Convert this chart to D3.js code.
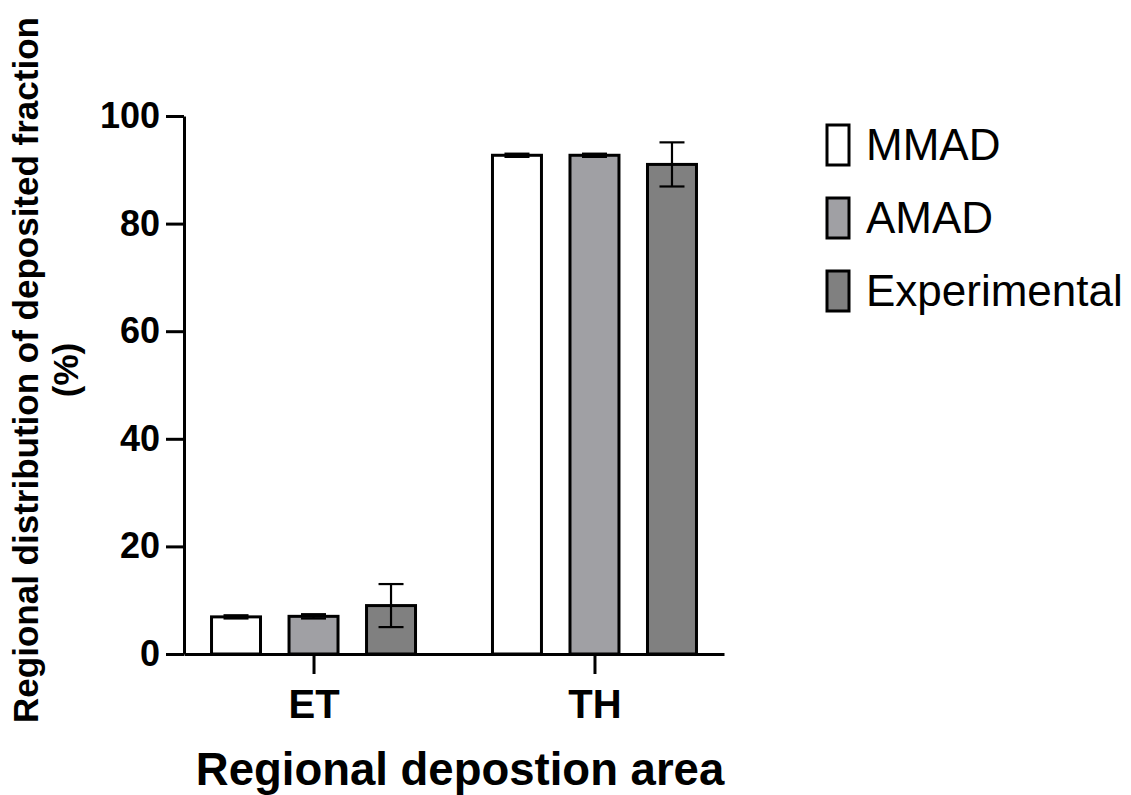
<!DOCTYPE html>
<html>
<head>
<meta charset="utf-8">
<script src="https://cdn.jsdelivr.net/npm/d3@7"></script>
<style>
  body { margin: 0; background: #fff; }
  text { font-family: "Liberation Sans", Arial, sans-serif; fill: #000; }
</style>
</head>
<body>
<div id="chart"></div>
<script>
// data
const regions = ["ET", "TH"];
const series = ["MMAD", "AMAD", "Experimental"];
const seriesColors = ["#ffffff", "#a0a0a4", "#808080"];
const meanValues = [   // rows = regions, cols = series
    [6.9, 7.0, 9.0],
    [92.7, 92.7, 91.0]
];
const sdValues = [
    [0.3, 0.4, 4.0],
    [0.3, 0.3, 4.1]
];
const yTicks = [0, 20, 40, 60, 80, 100];

const W = 1131, H = 795;

const svg = d3.select("#chart")
    .append("svg")
    .attr("width", W)
    .attr("height", H);

// scales
const xScale = d3.scalePoint()
    .domain(regions)
    .range([184, 724])
    .padding(0.461);

const inner = d3.scaleBand()
    .domain(series)
    .range([-102, 102])
    .paddingInner(0.368)
    .paddingOuter(0);

const yScale = d3.scaleLinear()
    .domain([0, 100])
    .range([654, 116]);

const colorScale = d3.scaleOrdinal()
    .domain(series)
    .range(seriesColors);

// flatten for drawing
const bars = [];
regions.forEach((r, i) => {
    series.forEach((s, j) => {
        bars.push({ region: r, series: s, mean: meanValues[i][j], sd: sdValues[i][j] });
    });
});

// bars
svg.selectAll(".bar")
    .data(bars)
    .enter()
    .append("rect")
    .attr("class", "bar")
    .attr("x", d => xScale(d.region) + inner(d.series))
    .attr("y", d => yScale(d.mean))
    .attr("width", inner.bandwidth())
    .attr("height", d => yScale(0) - yScale(d.mean))
    .style("fill", d => colorScale(d.series))
    .style("stroke", "#000")
    .style("stroke-width", 3);

// error bars
const capW = 25;
const err = svg.selectAll(".err")
    .data(bars)
    .enter()
    .append("g")
    .attr("class", "err")
    .attr("transform", d => `translate(${xScale(d.region) + inner(d.series) + inner.bandwidth() / 2},0)`)
    .style("stroke", "#000")
    .style("stroke-width", 2.2);
err.append("line")
    .attr("y1", d => yScale(d.mean - d.sd))
    .attr("y2", d => yScale(d.mean + d.sd));
err.append("line")
    .attr("x1", -capW / 2).attr("x2", capW / 2)
    .attr("y1", d => yScale(d.mean + d.sd))
    .attr("y2", d => yScale(d.mean + d.sd));
err.append("line")
    .attr("x1", -capW / 2).attr("x2", capW / 2)
    .attr("y1", d => yScale(d.mean - d.sd))
    .attr("y2", d => yScale(d.mean - d.sd));

// axes
const yAxis = svg.append("g")
    .attr("transform", "translate(184,0)")
    .call(d3.axisLeft(yScale)
        .tickValues(yTicks)
        .tickSize(18)
        .tickSizeOuter(0)
        .tickPadding(6));
yAxis.selectAll("path, line").style("stroke", "#000").style("stroke-width", 3);
yAxis.selectAll(".tick text")
    .style("font-size", "36px")
    .style("font-weight", "bold")
    .style("font-family", "'Liberation Sans', Arial, sans-serif");

const xAxis = svg.append("g")
    .attr("transform", "translate(0,654)")
    .call(d3.axisBottom(xScale)
        .tickSize(20)
        .tickSizeOuter(0)
        .tickPadding(16));
xAxis.selectAll("path, line").style("stroke", "#000").style("stroke-width", 3);
xAxis.selectAll(".tick text")
    .style("font-size", "40px")
    .style("font-weight", "bold")
    .style("font-family", "'Liberation Sans', Arial, sans-serif");

// axis titles
svg.append("text")
    .attr("x", 460)
    .attr("y", 785)
    .attr("text-anchor", "middle")
    .style("font-size", "45.5px")
    .style("font-weight", "bold")
    .text("Regional depostion area");

const yTitle = svg.append("text")
    .attr("transform", "translate(38,370) rotate(-90)")
    .attr("text-anchor", "middle")
    .style("font-size", "35px")
    .style("font-weight", "bold");
yTitle.append("tspan")
    .attr("x", 0)
    .attr("y", 0)
    .text("Regional distribution of deposited fraction");
yTitle.append("tspan")
    .attr("x", 0)
    .attr("y", 40)
    .text("(%)");

// legend
const legend = svg.selectAll(".legend")
    .data(series)
    .enter()
    .append("g")
    .attr("class", "legend")
    .attr("transform", (d, i) => `translate(827, ${160 + i * 73})`);
legend.append("rect")
    .attr("x", 0)
    .attr("y", -35)
    .attr("width", 22)
    .attr("height", 40)
    .style("fill", d => colorScale(d))
    .style("stroke", "#000")
    .style("stroke-width", 3);
legend.append("text")
    .attr("x", 39)
    .attr("y", 0)
    .style("font-size", "44px")
    .text(d => d);
</script>
</body>
</html>
